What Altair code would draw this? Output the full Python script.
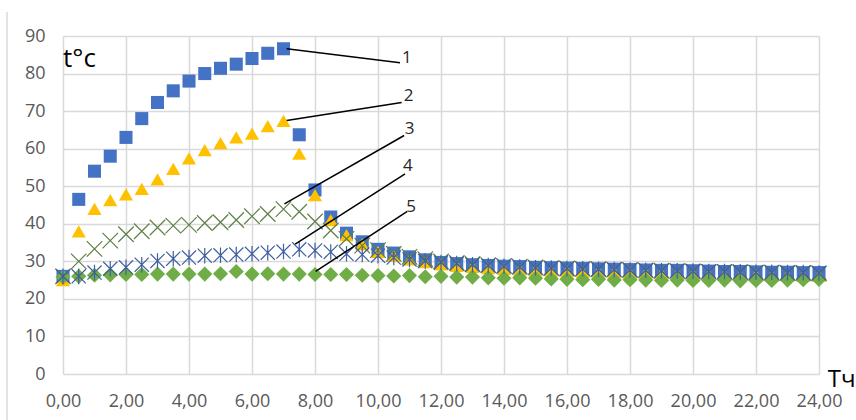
import altair as alt
import pandas as pd

hours = [0, 0.5, 1, 1.5, 2, 2.5, 3, 3.5, 4, 4.5, 5, 5.5, 6, 6.5, 7, 7.5,
         8, 8.5, 9, 9.5, 10, 10.5, 11, 11.5, 12, 12.5, 13, 13.5, 14, 14.5,
         15, 15.5, 16, 16.5, 17, 17.5, 18, 18.5, 19, 19.5, 20, 20.5, 21,
         21.5, 22, 22.5, 23, 23.5, 24]

s1 = [26, 46.5, 54, 58, 63, 68, 72.3, 75.4, 78, 80, 81.4, 82.5, 84, 85.4, 86.6, 63.7,
      49, 41.8, 37.5, 35.2, 33.2, 32.2, 31.2, 30.4, 29.7, 29.4, 29.1, 28.9, 28.7, 28.6,
      28.4, 28.3, 28.2, 28.1, 28, 27.9, 27.8, 27.7, 27.6, 27.6, 27.5, 27.4, 27.3,
      27.3, 27.2, 27.1, 27.1, 27, 27]
s2 = [25, 38, 44, 46.3, 47.8, 49.3, 51.8, 54.6, 57.4, 59.6, 61.5, 63, 64, 66, 67.4, 58.7,
      47.6, 41, 37, 34.5, 32.5, 31.5, 30.5, 29.8, 29.2, 28.8, 28.5, 28.2, 28, 27.8,
      27.6, 27.4, 27.3, 27.2, 27.1, 27, 26.9, 26.8, 26.7, 26.6, 26.5, 26.4, 26.4,
      26.3, 26.3, 26.2, 26.2, 26.1, 26.1]
s3 = [26, 30, 33.3, 35.5, 37.2, 38, 39, 39.5, 39.7, 40.2, 40.4, 41, 42, 42.6, 43.9, 43.2,
      40.6, 38.2, 36, 34.2, 33, 32, 31.2, 30.6, 30, 29.6, 29.3, 29, 28.8, 28.6,
      28.4, 28.2, 28.1, 28, 27.9, 27.8, 27.7, 27.6, 27.5, 27.4, 27.3, 27.2, 27.2,
      27.1, 27, 27, 26.9, 26.9, 26.8]
s4 = [26, 26, 27, 28, 28.4, 29.1, 30.1, 30.7, 31, 31.5, 31.6, 31.8, 32, 32.3, 32.6, 33.2,
      32.9, 32.5, 32, 31.8, 31.5, 31, 30.5, 30.1, 29.7, 29.4, 29.1, 28.9, 28.7, 28.5,
      28.3, 28.2, 28.1, 28, 27.9, 27.8, 27.7, 27.6, 27.5, 27.5, 27.4, 27.3, 27.3,
      27.2, 27.1, 27.1, 27, 27, 26.9]
s5 = [25.8, 26, 26.3, 26.4, 26.5, 26.5, 26.6, 26.6, 26.6, 26.6, 26.7, 27.3, 26.6, 26.7, 26.6, 26.6,
      26.5, 26.5, 26.5, 26.3, 26.2, 26.1, 26.2, 25.9, 26, 25.8, 25.8, 25.6, 25.5, 25.6,
      25.5, 25.3, 25.2, 25.1, 25.2, 25, 25.1, 25, 24.9, 25, 24.9, 24.9, 25,
      24.8, 24.9, 24.9, 25, 25.1, 25.2]

# annotation leader lines (data units) and their labels
ann_labels = ["1", "2", "3", "4", "5"]
ann_x_start = [7.1, 7.1, 7.03, 7.37, 8.02]
ann_y_start = [86.6, 67.5, 45.3, 34.6, 27.3]
ann_x_end = [10.7, 10.75, 10.83, 10.86, 10.93]
ann_y_end = [82.9, 72.3, 63.5, 53.3, 43.3]
ann_label_x = [10.92, 10.97, 11.0, 10.95, 11.05]
ann_label_y = [84.2, 74.1, 65.3, 55.3, 44.6]

x_ticks = [0, 2, 4, 6, 8, 10, 12, 14, 16, 18, 20, 22, 24]
y_ticks = [0, 10, 20, 30, 40, 50, 60, 70, 80, 90]

W, H = 756, 338

xs = alt.Scale(domain=[0, 24], nice=False)
ys = alt.Scale(domain=[0, 90], nice=False)

x_axis = alt.Axis(values=x_ticks, labelExpr="replace(format(datum.value, '.2f'), '.', ',')",
                  title=None, grid=True, domain=False, ticks=False, labelPadding=18,
                  labelAlign="center", labelFlush=False, labelOverlap=False, labelBound=False)
y_axis = alt.Axis(values=y_ticks, title=None, grid=True, domain=False, ticks=False,
                  labelPadding=18, labelOverlap=False, labelFlush=False)


def ex(field):
    return alt.X(field, scale=xs, axis=x_axis)


def ey(field):
    return alt.Y(field, scale=ys, axis=y_axis)


X_PATH = "M-1,-1L1,1M-1,1L1,-1"
AST_PATH = "M-1,-1L1,1M-1,1L1,-1M0,-1.1L0,1.1"

series = [
    (s1, dict(shape="square", filled=True, color="#4472C4", size=170, opacity=1)),
    (s2, dict(shape="triangle-up", filled=True, color="#FFC000", size=200, opacity=1)),
    (s5, dict(shape="diamond", filled=True, color="#70AD47", size=230, opacity=1)),
    (s3, dict(shape=X_PATH, filled=False, color="#5E7F45", size=240, strokeWidth=1.2, opacity=1)),
    (s4, dict(shape=AST_PATH, filled=False, color="#3F5FA0", size=200, strokeWidth=1.2, opacity=1)),
]

layers = []
for vals, style in series:
    df = pd.DataFrame({"t": hours, "v": vals})
    layers.append(alt.Chart(df).mark_point(**style).encode(x=ex("t:Q"), y=ey("v:Q")))

ann_df = pd.DataFrame({"x": ann_x_start, "y": ann_y_start, "x2": ann_x_end,
                       "y2": ann_y_end, "lx": ann_label_x, "ly": ann_label_y,
                       "lab": ann_labels})
lines = alt.Chart(ann_df).mark_rule(color="black", strokeWidth=1.5).encode(
    x=ex("x:Q"), y=ey("y:Q"), x2="x2:Q", y2="y2:Q")
labels = alt.Chart(ann_df).mark_text(fontSize=17, font="Open Sans", color="#262626",
                                     align="center", baseline="middle").encode(
    x=ex("lx:Q"), y=ey("ly:Q"), text="lab:N")

unit_df = pd.DataFrame({"x": [0.0], "y": [84.0], "txt": ["t°c"]})
unit = alt.Chart(unit_df).mark_text(fontSize=26, font="Open Sans", color="black",
                                    align="left", baseline="middle").encode(
    x=ex("x:Q"), y=ey("y:Q"), text="txt:N")

xt_df = pd.DataFrame({"x": [24.72], "y": [-1.6], "txt": ["Тч"]})
xtitle = alt.Chart(xt_df).mark_text(fontSize=24, font="Open Sans", color="black",
                                    align="center", baseline="middle").encode(
    x=ex("x:Q"), y=ey("y:Q"), text="txt:N")

frame_left = alt.Chart(pd.DataFrame({"k": [0]})).mark_rule(color="#d9d9d9", strokeWidth=1.5).encode(
    x=alt.value(-56), y=alt.value(-24), y2=alt.value(400))

chart = alt.layer(frame_left, *layers, lines, labels, unit, xtitle).properties(
    width=W, height=H,
    autosize=alt.AutoSizeParams(type="none"),
    padding={"left": 63, "top": 36, "right": 37, "bottom": 46},
    background="white",
).configure_view(stroke=None).configure_axis(
    gridColor="#d9d9d9", gridWidth=1.5, labelColor="#595959",
    labelFont="Open Sans", labelFontSize=18,
)

chart.save("out.html", embed_options={"renderer": "svg", "actions": False})
